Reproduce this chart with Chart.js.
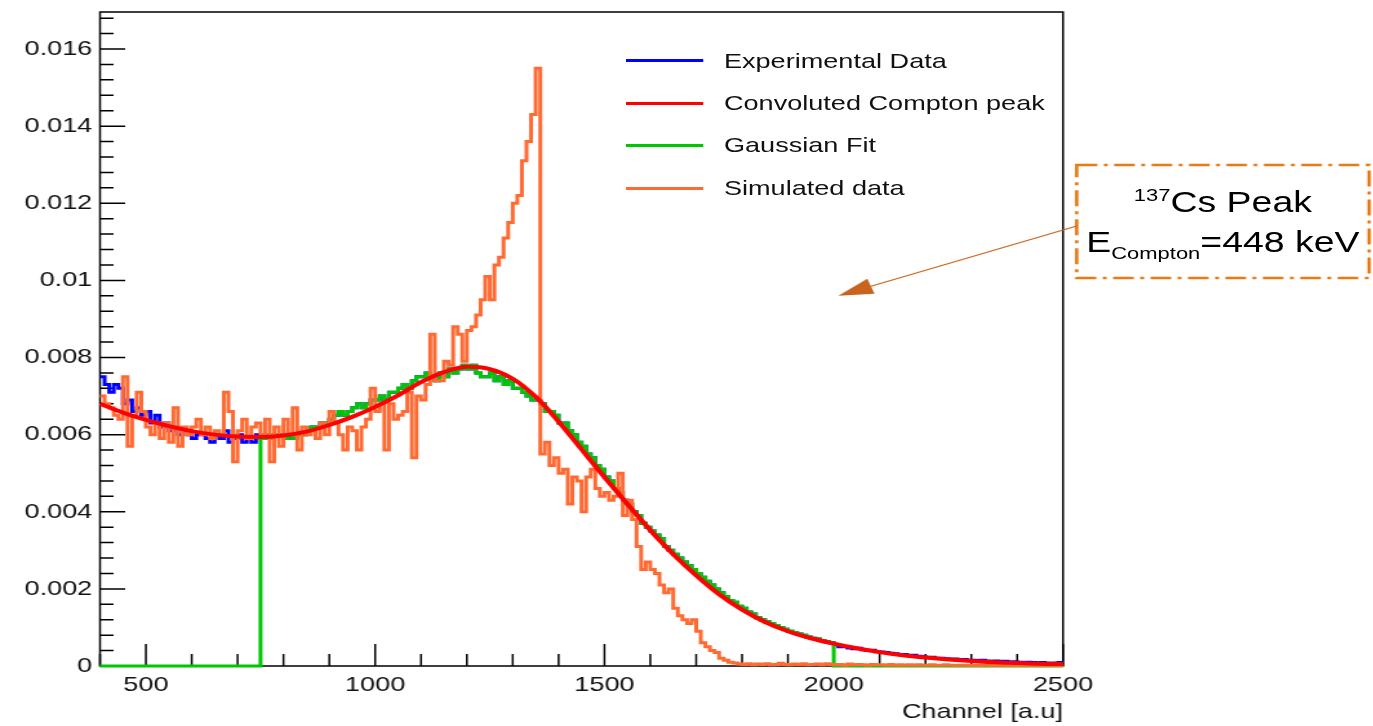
<!DOCTYPE html>
<html>
<head>
<meta charset="utf-8">
<title>Compton peak</title>
<script src="https://cdn.jsdelivr.net/npm/chart.js@4.4.1/dist/chart.umd.min.js"></script>
<style>
  html, body { margin: 0; padding: 0; background: #fff; overflow: hidden; }
  /* the whole figure is drawn narrow and stretched sideways, like the source image */
  #wrap {
    position: relative;
    width: 1064px;
    height: 726px;
    transform: scaleX(1.2904);
    transform-origin: 0 0;
    font-family: "Liberation Sans", Arial, sans-serif;
  }
  #chart-box { position: absolute; left: 0; top: 0; width: 1064px; height: 726px; }
  .leg-row {
    position: absolute; left: 484.5px; height: 26px;
    display: flex; align-items: center;
    font-size: 21px; color: #111; white-space: nowrap;
  }
  .leg-line { width: 60.5px; height: 3px; margin-right: 16px; }
  .note {
    position: absolute; left: 834.4px; width: 226.6px;
    text-align: center; color: #000; white-space: nowrap;
    font-size: 29px; line-height: 29px;
  }
  .note sup, .note sub { font-size: 17px; line-height: 0; }
</style>
</head>
<body>
<div id="wrap">
  <div id="chart-box"><canvas id="chart-compton"></canvas></div>

  <div class="leg-row" style="top:47.7px"><span class="leg-line" style="background:#0000ff"></span>Experimental Data</div>
  <div class="leg-row" style="top:90.3px"><span class="leg-line" style="background:#ff0000"></span>Convoluted Compton peak</div>
  <div class="leg-row" style="top:132px"><span class="leg-line" style="background:#00c800"></span>Gaussian Fit</div>
  <div class="leg-row" style="top:175.3px"><span class="leg-line" style="background:#ff6a33"></span>Simulated data</div>

  <div class="note" style="top:188.4px"><sup>137</sup>Cs Peak</div>
  <div class="note" style="top:228.4px">E<sub>Compton</sub>=448 keV</div>
</div>

<script>
// =============================
// DATA
// =============================
// histograms: 10-channel bins starting at channel 400
const binStart = 400;
const binWidth = 10;

// experimental spectrum (normalised counts per bin)
const expValues = [
  0.0075, 0.0073, 0.0071, 0.0073, 0.0072, 0.0068, 0.0069, 0.0066, 0.0067, 0.0065,
  0.0066, 0.0063, 0.0065, 0.0062, 0.0063, 0.0061, 0.0062, 0.0060, 0.0061, 0.0060,
  0.0059, 0.0060, 0.0060, 0.0059, 0.0058, 0.0060, 0.0059, 0.0061, 0.0058, 0.0059,
  0.0060, 0.0058, 0.0059, 0.0058, 0.0060, 0.0059, 0.0060, 0.0059, 0.0060, 0.0060,
  0.0059, 0.0060, 0.0059, 0.0060, 0.0060, 0.0061, 0.0062, 0.0062, 0.0063, 0.0063,
  0.0064, 0.0065, 0.0066, 0.0065, 0.0066, 0.0067, 0.0068, 0.0067, 0.0068, 0.0069,
  0.0069, 0.0070, 0.0069, 0.0071, 0.0071, 0.0072, 0.0073, 0.0072, 0.0074, 0.0075,
  0.0075, 0.0076, 0.0075, 0.0074, 0.0076, 0.0075, 0.0077, 0.0076, 0.0077, 0.0078,
  0.0077, 0.0078, 0.0076, 0.0075, 0.0075, 0.0076, 0.0074, 0.0075, 0.0073, 0.0074,
  0.0072, 0.0072, 0.0071, 0.0070, 0.0069, 0.0069, 0.0068, 0.0066, 0.0066, 0.0065,
  0.0063, 0.0063, 0.0061, 0.0060, 0.0058, 0.0057, 0.0055, 0.0054, 0.0052, 0.0051,
  0.0049, 0.0048, 0.0046, 0.0045, 0.0043, 0.0042, 0.0040, 0.0039, 0.0037, 0.0036,
  0.0035, 0.0034, 0.0033, 0.0031, 0.0030, 0.0029, 0.0028, 0.0027, 0.0026, 0.0025,
  0.0024, 0.0023, 0.0022, 0.0021, 0.0020, 0.0019, 0.0018, 0.0017, 0.00165, 0.00155,
  0.0015, 0.0014, 0.00135, 0.00125, 0.0012, 0.00115, 0.0011, 0.00105, 0.0010, 0.00095,
  0.0009, 0.00087, 0.00083, 0.0008, 0.00075, 0.00072, 0.0007, 0.00066, 0.00063, 0.0006,
  0.00055, 0.0005, 0.0005, 0.00047, 0.00045, 0.00046, 0.00042, 0.0004, 0.00041, 0.00037,
  0.00036, 0.00035, 0.00033, 0.00032, 0.0003, 0.0003, 0.00027, 0.00028, 0.00025, 0.00024,
  0.00022, 0.00023, 0.0002, 0.0002, 0.00019, 0.00018, 0.00018, 0.00016, 0.00017, 0.00015,
  0.00015, 0.00014, 0.00015, 0.00013, 0.00012, 0.00013, 0.00011, 0.00012, 0.0001, 0.00011,
  0.0001, 0.00009, 0.0001, 0.00009, 0.00008, 0.00009, 0.00008, 0.00007, 0.00008, 0.00009
];

// Gaussian fit is shown over this channel window only
const fitRange = [750, 2000];

// simulated spectrum
const simValues = [
  0.0070, 0.0068, 0.0067, 0.0065, 0.0064, 0.0075, 0.0057, 0.0065, 0.0071, 0.0066,
  0.0062, 0.0060, 0.0063, 0.0059, 0.0063, 0.0058, 0.0067, 0.0057, 0.0062, 0.0060,
  0.0062, 0.0064, 0.0060, 0.0062, 0.0059, 0.0061, 0.0060, 0.0071, 0.0066, 0.0053,
  0.0061, 0.0064, 0.0059, 0.0062, 0.0063, 0.0060, 0.0064, 0.0053, 0.0062, 0.0057,
  0.0064, 0.0060, 0.0067, 0.0056, 0.0062, 0.0060, 0.0061, 0.0059, 0.0063, 0.0060,
  0.0066, 0.0063, 0.0060, 0.0056, 0.0062, 0.0061, 0.0056, 0.0062, 0.0064, 0.0072,
  0.0066, 0.0068, 0.0056, 0.0068, 0.0064, 0.0065, 0.0066, 0.0071, 0.0054, 0.0070,
  0.0069, 0.0073, 0.0086, 0.0074, 0.0074, 0.0079, 0.0078, 0.0088, 0.0086, 0.0079,
  0.0087, 0.0088, 0.0091, 0.0095, 0.0101, 0.0095, 0.0104, 0.0106, 0.0111, 0.0115,
  0.0120, 0.0122, 0.0131, 0.0136, 0.0143, 0.0155, 0.0055, 0.0058, 0.0052, 0.0054,
  0.0050, 0.0051, 0.0042, 0.0049, 0.0048, 0.0040, 0.0049, 0.0051, 0.0046, 0.0044,
  0.0045, 0.0043, 0.0044, 0.0050, 0.0039, 0.0043, 0.0038, 0.0031, 0.0025, 0.0027,
  0.0025, 0.0024, 0.0021, 0.0019, 0.0020, 0.0015, 0.0013, 0.0012, 0.0011, 0.0012,
  0.0009, 0.0006, 0.0005, 0.0004, 0.00035, 0.0002, 0.00015, 0.0001, 0.00008, 0.00005,
  0.00004, 0.00006, 0.00003, 0.00005, 0.00004, 0.00006, 0.00003, 0.00004, 0.00007, 0.00004,
  0.00003, 0.00005, 0.00004, 0.00006, 0.00003, 0.00004, 0.00005, 0.00003, 0.00006, 0.00004,
  0.00003, 0.00004, 0.00002, 0.00005, 0.00003, 0.00004, 0.00003, 0.00002, 0.00004, 0.00003,
  0.00003, 0.00002, 0.00004, 0.00002, 0.00003, 0.00002, 0.00003, 0.00002, 0.00003, 0.00002,
  0.00002, 0.00003, 0.00002, 0.00002, 0.00003, 0.00002, 0.00001, 0.00002, 0.00002, 0.00001,
  0.00002, 0.00001, 0.00002, 0.00002, 0.00001, 0.00002, 0.00001, 0.00002, 0.00001, 0.00002,
  0.00001, 0.00002, 0.00001, 0.00001, 0.00002, 0.00001, 0.00001, 0.00002, 0.00001, 0.00001
];

// convoluted Compton peak (smooth curve)
const convChannels = [
  400, 450, 500, 550, 600, 650, 700, 750, 800, 850, 900, 950, 1000, 1050, 1100,
  1150, 1200, 1250, 1300, 1350, 1400, 1450, 1500, 1550, 1600, 1650, 1700, 1750,
  1800, 1850, 1900, 1950, 2000, 2050, 2100, 2150, 2200, 2250, 2300, 2350, 2400,
  2450, 2500
];
const convValues = [
  0.00680, 0.00657, 0.00638, 0.00622, 0.00609, 0.00600, 0.00595, 0.00594, 0.00598,
  0.00608, 0.00625, 0.00646, 0.00672, 0.00702, 0.00736, 0.00762, 0.00776, 0.00770,
  0.00745, 0.00698, 0.00634, 0.00562, 0.00490, 0.00420, 0.00352, 0.00290, 0.00235,
  0.00186, 0.00146, 0.00114, 0.00090, 0.00072, 0.00058, 0.00046, 0.00036, 0.00028,
  0.00022, 0.00017, 0.00013, 0.00010, 0.00008, 0.00006, 0.00005
];

// axes
const xTickValues = [500, 1000, 1500, 2000, 2500];
const xTickLabels = ["500", "1000", "1500", "2000", "2500"];
const yTickValues = [0, 0.002, 0.004, 0.006, 0.008, 0.01, 0.012, 0.014, 0.016];
const yTickLabels = ["0", "0.002", "0.004", "0.006", "0.008", "0.01", "0.012", "0.014", "0.016"];

// annotation arrow tip (channel, value)
const arrowTip = [2010, 0.0096];


// =============================
// HELPERS
// =============================
const FONT = '"Liberation Sans", Arial, sans-serif';
Chart.defaults.font.family = FONT;

// bin edges -> step points (value of a bin is held until the next edge)
function histPoints(values) {
  const pts = values.map((v, i) => ({ x: binStart + i * binWidth, y: v }));
  pts.push({ x: binStart + values.length * binWidth, y: values[values.length - 1] });
  return pts;
}

const gaussValues = expValues.map((v, i) => {
  const c = binStart + i * binWidth;
  return c >= fitRange[0] && c < fitRange[1] ? v : 0;
});

// keep the plot frame exactly where the layout puts it
function noLabelPadding(s) {
  s.paddingTop = 0;
  s.paddingBottom = 0;
  s.paddingLeft = 0;
  s.paddingRight = 0;
}


// =============================
// FRAME, TICKS AND NOTE (ROOT look)
// =============================
const rootFrame = {
  id: "rootFrame",
  beforeDatasetsDraw(chart) {
    const { ctx, chartArea: a, scales: { x, y } } = chart;
    ctx.save();
    ctx.strokeStyle = "#000";
    ctx.lineWidth = 1.5;
    ctx.strokeRect(a.left, a.top, a.right - a.left, a.bottom - a.top);

    ctx.beginPath();
    // x: minor every 100, major every 500
    for (let c = 400; c <= 2500; c += 100) {
      const px = x.getPixelForValue(c);
      const len = c % 500 === 0 ? 22 : 12;
      ctx.moveTo(px, a.bottom);
      ctx.lineTo(px, a.bottom - len);
    }
    // y: minor every 0.0004, major every 0.002
    for (let i = 0; i * 0.0004 <= y.max; i++) {
      const py = y.getPixelForValue(i * 0.0004);
      const len = i % 5 === 0 ? 19.5 : 10.5;
      ctx.moveTo(a.left, py);
      ctx.lineTo(a.left + len, py);
    }
    ctx.stroke();
    ctx.restore();
  },
  afterDraw(chart) {
    const { ctx, scales: { x, y } } = chart;
    ctx.save();

    // dash-dot box around the note
    ctx.strokeStyle = "#e87a14";
    ctx.lineWidth = 2.6;
    ctx.setLineDash([16, 5, 3, 5]);
    ctx.strokeRect(834.4, 165, 226.6, 113);
    ctx.setLineDash([]);

    // arrow from box to plot
    const tx = x.getPixelForValue(arrowTip[0]);
    const ty = y.getPixelForValue(arrowTip[1]);
    const sx = 834.4, sy = 226;
    const dx = tx - sx, dy = ty - sy;
    const d = Math.hypot(dx, dy);
    const ux = dx / d, uy = dy / d;
    const headLen = 27, headW = 8;
    const bx = tx - ux * headLen, by = ty - uy * headLen;

    ctx.strokeStyle = "#c8641e";
    ctx.lineWidth = 1.2;
    ctx.beginPath();
    ctx.moveTo(sx, sy);
    ctx.lineTo(bx, by);
    ctx.stroke();

    ctx.fillStyle = "#c8641e";
    ctx.beginPath();
    ctx.moveTo(tx, ty);
    ctx.lineTo(bx - uy * headW, by + ux * headW);
    ctx.lineTo(bx + uy * headW, by - ux * headW);
    ctx.closePath();
    ctx.fill();

    ctx.restore();
  }
};


// =============================
// CHART
// =============================
const histStyle = {
  stepped: "before",
  pointRadius: 0,
  borderWidth: 3,
  fill: false,
  clip: false,
  tension: 0
};

new Chart(document.getElementById("chart-compton"), {
  type: "line",
  data: {
    datasets: [
      {
        label: "Experimental Data",
        data: histPoints(expValues),
        borderColor: "#0000ff",
        order: 3,
        ...histStyle
      },
      {
        label: "Convoluted Compton peak",
        data: convChannels.map((c, i) => ({ x: c, y: convValues[i] })),
        borderColor: "#ff0000",
        borderWidth: 4,
        pointRadius: 0,
        fill: false,
        clip: false,
        cubicInterpolationMode: "monotone",
        order: 0
      },
      {
        label: "Gaussian Fit",
        data: histPoints(gaussValues),
        borderColor: "#00c800",
        order: 2,
        ...histStyle
      },
      {
        label: "Simulated data",
        data: histPoints(simValues),
        borderColor: "#ff6a33",
        order: 1,
        ...histStyle
      }
    ]
  },
  options: {
    responsive: true,
    maintainAspectRatio: false,
    animation: false,
    events: [],
    layout: {
      padding: { left: 0, right: 240.2, top: 12, bottom: 0 }
    },
    plugins: {
      legend: { display: false },
      tooltip: { enabled: false }
    },
    scales: {
      x: {
        type: "linear",
        min: 400,
        max: 2500,
        afterBuildTicks: s => { s.ticks = xTickValues.map(v => ({ value: v })); },
        afterFit: s => { s.height = 60; noLabelPadding(s); },
        grid: { display: false, drawTicks: false },
        border: { display: false },
        ticks: {
          color: "#111",
          font: { size: 21 },
          padding: 7,
          maxRotation: 0,
          autoSkip: false,
          callback: (v, i) => xTickLabels[i]
        },
        title: {
          display: true,
          text: "Channel [a.u]",
          align: "end",
          color: "#111",
          font: { size: 21 },
          padding: { top: 0, bottom: 1 }
        }
      },
      y: {
        type: "linear",
        min: 0,
        max: 0.01696,
        afterBuildTicks: s => { s.ticks = yTickValues.map(v => ({ value: v })); },
        afterFit: s => { s.width = 77.5; noLabelPadding(s); },
        grid: { display: false, drawTicks: false },
        border: { display: false },
        ticks: {
          color: "#111",
          font: { size: 21 },
          padding: 6,
          autoSkip: false,
          callback: (v, i) => yTickLabels[i]
        }
      }
    }
  },
  plugins: [rootFrame]
});
</script>
</body>
</html>
